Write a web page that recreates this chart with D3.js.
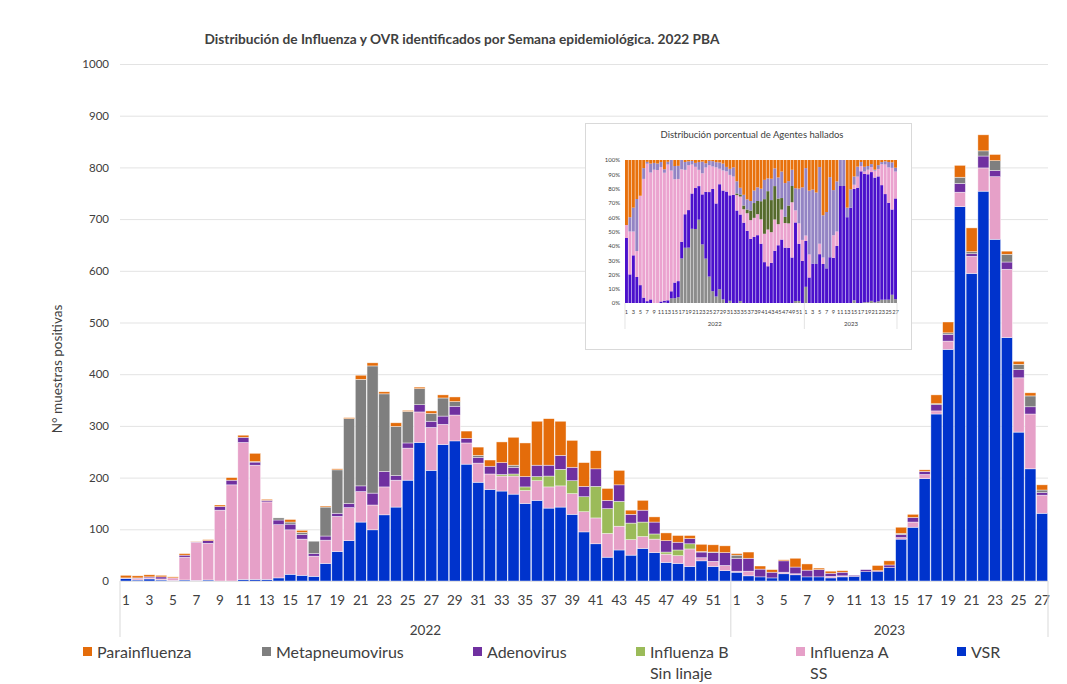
<!DOCTYPE html>
<html>
<head>
<meta charset="utf-8">
<script src="https://cdn.jsdelivr.net/npm/d3@7"></script>
<style>
  body { margin: 0; background: #fff; }
  text { font-family: Lato, "Open Sans", sans-serif; fill: #404040; }
</style>
</head>
<body>
<div id="chart"></div>
<script>
// weeks per year on the x axis
var yearLabels = ["2022", "2023"];
var weeksPerYear = [52, 27];

// cases per epidemiological week (2022 w1..w52, 2023 w1..w27)
var vsr = [5,2,4,2,1,2,1,2,0,0,3,3,3,6,13,11,9,34,57,78,114,99,128,143,195,268,214,264,271,226,
  191,177,174,168,150,156,141,143,129,95,72,46,60,50,63,55,36,34,28,39,28,20,
  17,10,8,6,14,12,8,8,6,8,9,18,18,26,81,104,198,323,448,724,595,754,661,471,288,217,131];
var influenzaA = [1,3,2,2,5,44,74,71,137,186,265,221,150,103,86,70,39,45,68,64,59,48,54,52,62,59,
  83,39,50,41,37,30,29,35,25,38,41,41,40,39,50,46,46,30,23,26,16,15,34,6,10,10,
  2,9,0,0,3,2,0,0,3,2,0,0,0,0,3,10,8,6,16,28,33,45,121,132,105,106,35];
var influenzaB = [0,0,0,0,0,0,0,0,0,0,0,0,0,0,0,0,0,0,0,0,0,0,0,0,0,0,0,0,0,0,0,0,3,4,7,8,21,32,
  25,29,61,48,48,32,28,10,4,11,10,0,0,0,
  0,0,0,0,0,0,0,0,0,0,0,0,0,0,0,0,0,0,0,0,0,0,0,0,0,0,0];
var adenovirus = [0,1,2,4,0,4,1,5,7,9,10,6,3,9,11,9,5,8,6,8,11,23,30,9,10,14,12,16,17,9,11,15,23,
  13,20,22,21,27,26,20,34,16,32,17,23,23,22,15,10,11,17,25,
  25,25,15,11,22,13,13,14,6,7,2,4,2,5,6,9,6,12,13,17,5,23,12,14,16,14,5];
var metapneumovirus = [0,0,0,0,0,0,0,0,0,0,0,1,0,4,4,4,24,56,84,164,206,246,150,95,61,31,15,35,9,0,
  4,0,0,4,0,0,0,0,0,0,0,0,0,0,0,0,0,0,0,1,1,0,
  6,0,0,0,0,0,0,0,0,0,0,0,0,0,2,0,0,2,3,12,4,10,19,15,10,21,5];
var parainfluenza = [5,4,4,3,2,3,1,2,3,5,4,16,2,0,5,4,0,2,2,2,8,6,4,7,2,3,5,6,9,14,16,12,40,54,65,
  85,90,66,52,46,35,23,28,8,19,10,15,13,6,14,14,13,
  3,12,6,5,2,17,12,3,4,3,0,0,10,8,12,6,3,17,21,23,46,31,12,6,6,6,10];

var seriesNames = ["VSR", "Influenza A SS", "Influenza B Sin linaje", "Adenovirus", "Metapneumovirus", "Parainfluenza"];
var seriesValues = [vsr, influenzaA, influenzaB, adenovirus, metapneumovirus, parainfluenza];
var mainColors = ["#0033cc", "#e6a0c8", "#9bbb59", "#7030a0", "#7f7f7f", "#e46c0a"];
var insetColors = ["#4b10cc", "#eba3cf", "#566b2c", "#9484c4", "#8c8c8c", "#e8710c"];
var insetOrder = [4, 0, 1, 2, 3, 5]; // metapneumovirus at the bottom of the inset
var legendItems = [
  {s: 5, lines: ["Parainfluenza"]},
  {s: 4, lines: ["Metapneumovirus"]},
  {s: 3, lines: ["Adenovirus"]},
  {s: 2, lines: ["Influenza B", "Sin linaje"]},
  {s: 1, lines: ["Influenza A", "SS"]},
  {s: 0, lines: ["VSR"]}
];

var W = 1067, H = 684;

// category rows
var rows = [];
yearLabels.forEach(function(y, yi) {
  d3.range(1, weeksPerYear[yi] + 1).forEach(function(w) {
    var r = {year: y, week: w, id: rows.length};
    seriesNames.forEach(function(n, si) { r[n] = seriesValues[si][rows.length]; });
    rows.push(r);
  });
});

var svg = d3.select("#chart").append("svg")
    .attr("width", W)
    .attr("height", H);
svg.append("rect").attr("width", W).attr("height", H).attr("fill", "#fff");

// ---------- main chart ----------
var x = d3.scaleBand()
    .domain(rows.map(function(d) { return d.id; }))
    .range([120, 1048])
    .paddingInner(0.06)
    .paddingOuter(0.03);
var y = d3.scaleLinear().domain([0, 1000]).range([581, 64]);

svg.append("g")
    .call(d3.axisLeft(y).tickValues(d3.range(0, 1001, 100)).tickFormat(d3.format("d")).tickSize(-928).tickPadding(11))
    .attr("transform", "translate(120,0)")
    .call(function(g) {
      g.select(".domain").remove();
      g.selectAll(".tick line").attr("stroke", "#e3e3e3");
      g.selectAll(".tick text").style("font-size", "11.5px").attr("fill", "#404040");
    });

svg.append("text")
    .attr("transform", "translate(62,369) rotate(-90)")
    .attr("text-anchor", "middle")
    .style("font-size", "13.5px")
    .text("N° muestras positivas");

svg.append("text")
    .attr("x", 462).attr("y", 44)
    .attr("text-anchor", "middle")
    .style("font-size", "13.7px")
    .style("font-weight", "bold")
    .attr("fill", "#262626")
    .text("Distribución de Influenza y OVR identificados por Semana epidemiológica. 2022 PBA");

var stack = d3.stack().keys(seriesNames);
var layers = stack(rows);

svg.append("g").selectAll("g")
  .data(layers)
  .join("g")
    .attr("fill", function(d, i) { return mainColors[i]; })
  .selectAll("rect")
  .data(function(d) { return d; })
  .join("rect")
    .attr("x", function(d) { return x(d.data.id); })
    .attr("width", x.bandwidth())
    .attr("y", function(d) { return y(d[1]); })
    .attr("height", function(d) { return Math.max(0, y(d[0]) - y(d[1])); })
    .attr("stroke", "#fff")
    .attr("stroke-opacity", 0.7)
    .attr("stroke-width", 0.6);

// x axis: week ticks, year groups
var xAxis = svg.append("g");
xAxis.selectAll("text.wk")
  .data(rows.filter(function(d) { return d.week % 2 === 1; }))
  .join("text")
    .attr("class", "wk")
    .attr("x", function(d) { return x(d.id) + x.bandwidth() / 2; })
    .attr("y", 605)
    .attr("text-anchor", "middle")
    .style("font-size", "13.5px")
    .text(function(d) { return d.week; });

var start = 0, seps = [120];
yearLabels.forEach(function(yl, yi) {
  var a = x(start) - x.step() * x.paddingInner() / 2;
  var b = x(start + weeksPerYear[yi] - 1) + x.bandwidth() + x.step() * x.paddingInner() / 2;
  xAxis.append("text")
      .attr("x", (a + b) / 2).attr("y", 635)
      .attr("text-anchor", "middle")
      .style("font-size", "13.5px")
      .text(yl);
  start += weeksPerYear[yi];
  seps.push(yi === yearLabels.length - 1 ? 1048 : b);
});
xAxis.selectAll("line")
  .data(seps)
  .join("line")
    .attr("x1", function(d) { return d; }).attr("x2", function(d) { return d; })
    .attr("y1", 581).attr("y2", 637)
    .attr("stroke", "#d9d9d9");
xAxis.append("line")
    .attr("x1", 120).attr("x2", 1048).attr("y1", 581.5).attr("y2", 581.5)
    .attr("stroke", "#e3e3e3");

// legend
var legendX = [83, 262, 473, 636, 796, 957];
var legend = svg.append("g").selectAll("g")
  .data(legendItems)
  .join("g")
    .attr("transform", function(d, i) { return "translate(" + legendX[i] + ",652)"; });
legend.append("rect")
    .attr("x", 0).attr("y", -5)
    .attr("width", 9).attr("height", 9)
    .attr("fill", function(d) { return mainColors[d.s]; });
legend.selectAll("text")
  .data(function(d) { return d.lines; })
  .join("text")
    .attr("x", 14)
    .attr("y", function(d, i) { return 5.5 + i * 21; })
    .style("font-size", "16px")
    .attr("fill", "#262626")
    .text(function(d) { return d; });

// ---------- inset: percentage distribution ----------
var inset = svg.append("g");
inset.append("rect")
    .attr("x", 585.5).attr("y", 123.5)
    .attr("width", 326).attr("height", 226)
    .attr("fill", "#fff")
    .attr("stroke", "#d9d9d9");
inset.append("text")
    .attr("x", 752).attr("y", 138)
    .attr("text-anchor", "middle")
    .style("font-size", "9.5px")
    .text("Distribución porcentual de Agentes hallados");

var xi = d3.scaleBand()
    .domain(rows.map(function(d) { return d.id; }))
    .range([625, 897])
    .paddingInner(0.15);
var yi = d3.scaleLinear().domain([0, 1]).range([303, 160]);

var insetLayers = d3.stack()
    .keys(insetOrder.map(function(i) { return seriesNames[i]; }))
    .offset(d3.stackOffsetExpand)(rows);

inset.append("g").selectAll("g")
  .data(insetLayers)
  .join("g")
    .attr("fill", function(d, i) { return insetColors[insetOrder[i]]; })
  .selectAll("rect")
  .data(function(d) { return d; })
  .join("rect")
    .attr("x", function(d) { return xi(d.data.id); })
    .attr("width", xi.bandwidth())
    .attr("y", function(d) { return yi(d[1]); })
    .attr("height", function(d) { return Math.max(0, yi(d[0]) - yi(d[1])); });

inset.append("g")
    .attr("transform", "translate(625,0)")
    .call(d3.axisLeft(yi).tickValues(d3.range(0, 1.01, 0.1)).tickFormat(d3.format(".0%")).tickSize(0).tickPadding(5))
    .call(function(g) {
      g.select(".domain").remove();
      g.selectAll(".tick text").style("font-size", "6px").attr("fill", "#404040");
    });

inset.selectAll("text.iwk")
  .data(rows.filter(function(d) { return d.week % 2 === 1; }))
  .join("text")
    .attr("class", "iwk")
    .attr("x", function(d) { return xi(d.id) + xi.bandwidth() / 2; })
    .attr("y", 314)
    .attr("text-anchor", "middle")
    .style("font-size", "5.6px")
    .text(function(d) { return d.week; });

var s0 = 0, iseps = [625];
yearLabels.forEach(function(yl, k) {
  var a = xi(s0), b = xi(s0 + weeksPerYear[k] - 1) + xi.step();
  inset.append("text")
      .attr("x", (a + b) / 2).attr("y", 326)
      .attr("text-anchor", "middle")
      .style("font-size", "6px")
      .text(yl);
  s0 += weeksPerYear[k];
  iseps.push(k === yearLabels.length - 1 ? 897 : b);
});
inset.selectAll("line.isep")
  .data(iseps)
  .join("line")
    .attr("class", "isep")
    .attr("x1", function(d) { return d; }).attr("x2", function(d) { return d; })
    .attr("y1", 303).attr("y2", 329)
    .attr("stroke", "#d9d9d9")
    .attr("stroke-width", 0.7);
</script>
</body>
</html>
